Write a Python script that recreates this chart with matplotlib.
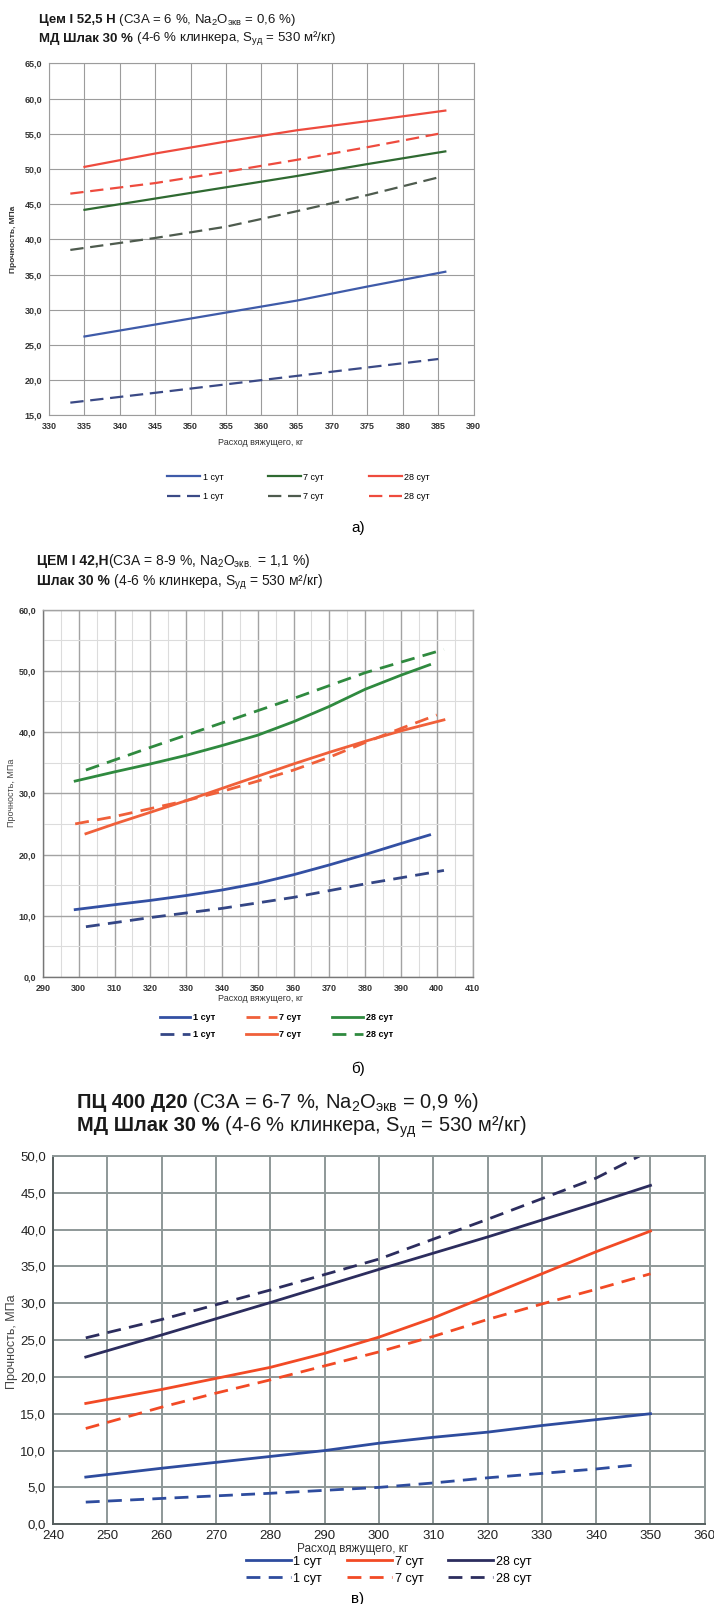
import matplotlib
matplotlib.use("Agg")
import matplotlib.pyplot as plt
from matplotlib.lines import Line2D
from matplotlib.ticker import MultipleLocator, FuncFormatter

plt.rcParams['mathtext.default'] = 'regular'

NARROW = ['Liberation Sans', 'DejaVu Sans']

# ---------------- data: chart a ----------------
a_x_s = [335, 345, 355, 365, 375, 386]
a_x_d = [333, 345, 355, 365, 375, 385]
a_1_solid = [26.2, 27.9, 29.6, 31.3, 33.3, 35.4]
a_1_dash = [16.8, 18.2, 19.4, 20.6, 21.8, 23.0]
a_7_solid = [44.2, 45.8, 47.4, 49.0, 50.7, 52.5]
a_7_dash = [38.5, 40.2, 41.8, 44.0, 46.3, 48.8]
a_28_solid = [50.3, 52.2, 53.9, 55.5, 56.8, 58.3]
a_28_dash = [46.5, 48.0, 49.6, 51.3, 53.1, 55.0]

# ---------------- data: chart b ----------------
b_x_s1 = [299, 310, 320, 330, 340, 350, 360, 370, 380, 390, 398]
b_1_solid = [11.0, 11.8, 12.5, 13.3, 14.2, 15.3, 16.7, 18.3, 20.0, 21.8, 23.2]
b_x_d1 = [302, 320, 340, 360, 380, 402]
b_1_dash = [8.2, 9.7, 11.2, 13.0, 15.2, 17.4]
b_x_d7 = [299, 310, 320, 330, 340, 350, 360, 370, 380, 390, 400]
b_7_dash = [25.0, 26.2, 27.5, 28.8, 30.3, 32.0, 33.8, 35.9, 38.3, 40.6, 42.8]
b_x_s7 = [302, 310, 320, 330, 340, 350, 360, 370, 380, 390, 402]
b_7_solid = [23.4, 25.0, 26.9, 28.8, 30.8, 32.8, 34.8, 36.7, 38.5, 40.2, 42.0]
b_x_s28 = [299, 310, 320, 330, 340, 350, 360, 370, 380, 390, 398]
b_28_solid = [32.0, 33.5, 34.8, 36.2, 37.8, 39.5, 41.7, 44.2, 47.0, 49.3, 51.0]
b_x_d28 = [302, 320, 340, 360, 380, 402]
b_28_dash = [33.8, 37.5, 41.5, 45.5, 49.7, 53.5]

# ---------------- data: chart c ----------------
c_x_full = [246, 260, 270, 280, 290, 300, 310, 320, 330, 340, 350]
c_1_solid = [6.4, 7.6, 8.4, 9.2, 10.0, 11.0, 11.8, 12.5, 13.4, 14.2, 15.0]
c_x_d1 = [246, 260, 280, 300, 310, 320, 330, 340, 348]
c_1_dash = [3.0, 3.5, 4.2, 5.0, 5.6, 6.3, 6.9, 7.5, 8.1]
c_7_solid = [16.4, 18.3, 19.8, 21.3, 23.2, 25.4, 28.0, 31.0, 34.0, 37.0, 39.8]
c_7_dash = [13.0, 15.9, 17.8, 19.6, 21.5, 23.4, 25.5, 27.8, 29.9, 31.9, 34.0]
c_x_s28 = [246, 260, 280, 300, 320, 340, 350]
c_28_solid = [22.7, 25.7, 30.1, 34.6, 39.0, 43.6, 46.0]
c_x_d28 = [246, 260, 280, 300, 320, 340, 348]
c_28_dash = [25.3, 27.8, 31.8, 36.0, 41.4, 47.0, 50.0]

labels_days = ['1 сут', '7 сут', '28 сут']
xlabel_text = 'Расход вяжущего, кг'
ylabel_text = 'Прочность, МПа'

W, H = 714, 1604
fig = plt.figure(figsize=(W / 100, H / 100), dpi=100)
fig.patch.set_facecolor('white')
renderer = fig.canvas.get_renderer()

SX = 714 / 698
SY = 1604 / 1568


def fx(x):
    return x * SX / W


def fy(y):
    return 1 - y * SY / H


def axes_rect(l, t, r, b):
    return [fx(l), fy(b), fx(r) - fx(l), fy(t) - fy(b)]


def rich(x, y, parts, size, family):
    """parts: list of (text, weight); x,y in reference (698-scale) px, y is baseline"""
    cx = x * SX
    for s, w in parts:
        t = fig.text(cx / W, fy(y), s, fontsize=size, fontweight=w,
                     family=family, ha='left', va='baseline', color='#1a1a1a')
        bb = t.get_window_extent(renderer)
        cx += bb.width


comma = FuncFormatter(lambda v, p: f"{v:.1f}".replace('.', ','))
intfmt = FuncFormatter(lambda v, p: f"{v:.0f}")

# =============== chart a ===============
rich(38, 22, [('Цем I 52,5 Н', 'bold'), (' (С3А = 6 %, Na$_2$O$_{экв}$ = 0,6 %)', 'normal')], 9.5, NARROW)
rich(38, 41, [('МД Шлак 30 %', 'bold'), (' (4-6 % клинкера, S$_{уд}$ = 530 м²/кг)', 'normal')], 9.5, NARROW)

axa = fig.add_axes(axes_rect(48, 62, 463, 406))
blue_a, blue_ad = '#3F5BA9', '#3B4A86'
green_a, green_ad = '#2F6A31', '#4E5B4E'
red_a = '#EE4B3E'
lw = 1.6
axa.plot(a_x_s, a_1_solid, color=blue_a, lw=lw)
axa.plot(a_x_d, a_1_dash, color=blue_ad, lw=lw, dashes=(6, 3))
axa.plot(a_x_s, a_7_solid, color=green_a, lw=lw)
axa.plot(a_x_d, a_7_dash, color=green_ad, lw=lw, dashes=(6, 3))
axa.plot(a_x_s, a_28_solid, color=red_a, lw=lw)
axa.plot(a_x_d, a_28_dash, color=red_a, lw=lw, dashes=(6, 3))
axa.set_xlim(330, 390)
axa.set_ylim(15, 65)
axa.xaxis.set_major_locator(MultipleLocator(5))
axa.yaxis.set_major_locator(MultipleLocator(5))
axa.yaxis.set_major_formatter(comma)
axa.xaxis.set_major_formatter(intfmt)
axa.grid(True, color='#9c9c9c', lw=0.8)
axa.set_axisbelow(True)
for s in axa.spines.values():
    s.set_color('#9c9c9c')
    s.set_linewidth(0.8)
axa.tick_params(length=0, labelsize=6.5, pad=5, colors='#333333')
for t in axa.get_xticklabels() + axa.get_yticklabels():
    t.set_family(NARROW)
    t.set_fontweight('bold')
fig.text(fx(13), fy(234), ylabel_text, rotation=90, ha='center', va='center',
         fontsize=6, family=NARROW, fontweight='bold', color='#333333')
fig.text(fx(255), fy(433), xlabel_text, ha='center', va='center',
         fontsize=6.5, family=NARROW, color='#333333')
ha_ = [Line2D([], [], color=blue_a, lw=lw), Line2D([], [], color=blue_ad, lw=lw, dashes=(6, 3)),
       Line2D([], [], color=green_a, lw=lw), Line2D([], [], color=green_ad, lw=lw, dashes=(6, 3)),
       Line2D([], [], color=red_a, lw=lw), Line2D([], [], color=red_a, lw=lw, dashes=(6, 3))]
la_ = [labels_days[0], labels_days[0], labels_days[1], labels_days[1], labels_days[2], labels_days[2]]
fig.legend(ha_, la_, ncol=3, loc='center', bbox_to_anchor=(fx(292), fy(476)),
           frameon=False, prop={'family': NARROW, 'size': 6.5}, handlelength=3.6,
           columnspacing=5.0, handletextpad=0.3, labelspacing=1.2)
fig.text(fx(350), fy(516), 'а)', ha='center', va='center', fontsize=11, family=NARROW)

# =============== chart b ===============
rich(36, 552, [('ЦЕМ I 42,Н', 'bold'), ('(С3А = 8-9 %, Na$_2$O$_{экв.}$ = 1,1 %)', 'normal')], 10, NARROW)
rich(36, 572, [('Шлак 30 %', 'bold'), (' (4-6 % клинкера, S$_{уд}$ = 530 м²/кг)', 'normal')], 10, NARROW)

axb = fig.add_axes(axes_rect(42, 596, 462, 955))
blue_b, blue_bd = '#3350A3', '#344685'
orange_b = '#F0603A'
green_b = '#2F8A3F'
lwb = 2.0
axb.plot(b_x_s1, b_1_solid, color=blue_b, lw=lwb)
axb.plot(b_x_d1, b_1_dash, color=blue_bd, lw=lwb, dashes=(5, 3))
axb.plot(b_x_d7, b_7_dash, color=orange_b, lw=lwb, dashes=(5, 3))
axb.plot(b_x_s7, b_7_solid, color=orange_b, lw=lwb)
axb.plot(b_x_s28, b_28_solid, color=green_b, lw=lwb)
axb.plot(b_x_d28, b_28_dash, color=green_b, lw=lwb, dashes=(5, 3))
axb.set_xlim(290, 410)
axb.set_ylim(0, 60)
axb.xaxis.set_major_locator(MultipleLocator(10))
axb.yaxis.set_major_locator(MultipleLocator(10))
axb.xaxis.set_minor_locator(MultipleLocator(5))
axb.yaxis.set_minor_locator(MultipleLocator(5))
axb.yaxis.set_major_formatter(comma)
axb.xaxis.set_major_formatter(intfmt)
axb.grid(True, which='major', color='#a3a3a3', lw=1.0)
axb.grid(True, which='minor', color='#dcdcdc', lw=0.8)
axb.set_axisbelow(True)
for k, s in axb.spines.items():
    s.set_color('#a3a3a3')
    s.set_linewidth(1.0)
axb.spines['left'].set_color('#777777')
axb.spines['bottom'].set_color('#777777')
axb.tick_params(which='both', length=0, labelsize=6.5, pad=5, colors='#333333')
for t in axb.get_xticklabels() + axb.get_yticklabels():
    t.set_family(NARROW)
    t.set_fontweight('bold')
fig.text(fx(11), fy(775), ylabel_text, rotation=90, ha='center', va='center',
         fontsize=6.5, family=NARROW, color='#444444')
fig.text(fx(255), fy(976), xlabel_text, ha='center', va='center',
         fontsize=6.5, family=NARROW, color='#333333')
hb_ = [Line2D([], [], color=blue_b, lw=lwb), Line2D([], [], color=blue_bd, lw=lwb, dashes=(5, 3)),
       Line2D([], [], color=orange_b, lw=lwb, dashes=(5, 3)), Line2D([], [], color=orange_b, lw=lwb),
       Line2D([], [], color=green_b, lw=lwb), Line2D([], [], color=green_b, lw=lwb, dashes=(5, 3))]
fig.legend(hb_, la_, ncol=3, loc='center', bbox_to_anchor=(fx(270), fy(1003)),
           frameon=False, prop={'family': NARROW, 'size': 6.5, 'weight': 'bold'}, handlelength=3.4,
           columnspacing=3.4, handletextpad=0.3, labelspacing=0.9)
fig.text(fx(350), fy(1045), 'б)', ha='center', va='center', fontsize=11, family=NARROW)

# =============== chart c ===============
rich(75, 1083, [('ПЦ 400 Д20', 'bold'), (' (С3А = 6-7 %, Na$_2$O$_{экв}$ = 0,9 %)', 'normal')], 14.5, NARROW)
rich(75, 1106, [('МД Шлак 30 %', 'bold'), (' (4-6 % клинкера, S$_{уд}$ = 530 м²/кг)', 'normal')], 14.5, NARROW)

axc = fig.add_axes(axes_rect(52, 1130, 689, 1490))
blue_c = '#2E4C9E'
red_c = '#F24A25'
navy_c = '#2C2D5E'
lwc = 2.0
axc.plot(c_x_full, c_1_solid, color=blue_c, lw=lwc)
axc.plot(c_x_d1, c_1_dash, color=blue_c, lw=lwc, dashes=(5, 3))
axc.plot(c_x_full, c_7_solid, color=red_c, lw=lwc)
axc.plot(c_x_full, c_7_dash, color=red_c, lw=lwc, dashes=(5, 3))
axc.plot(c_x_s28, c_28_solid, color=navy_c, lw=lwc)
axc.plot(c_x_d28, c_28_dash, color=navy_c, lw=lwc, dashes=(5, 3))
axc.set_xlim(240, 360)
axc.set_ylim(0, 50)
axc.xaxis.set_major_locator(MultipleLocator(10))
axc.yaxis.set_major_locator(MultipleLocator(5))
axc.yaxis.set_major_formatter(comma)
axc.xaxis.set_major_formatter(intfmt)
axc.grid(True, color='#8e9898', lw=1.4)
axc.set_axisbelow(True)
for k, s in axc.spines.items():
    s.set_color('#8e9898')
    s.set_linewidth(1.4)
axc.spines['left'].set_color('#555e5e')
axc.spines['bottom'].set_color('#555e5e')
axc.tick_params(axis='x', length=0, labelsize=9.5, pad=4, colors='#222222')
axc.tick_params(axis='y', length=0, labelsize=9.5, pad=5, colors='#222222')
for t in axc.get_xticklabels() + axc.get_yticklabels():
    t.set_family(NARROW)
fig.text(fx(12), fy(1312), ylabel_text, rotation=90, ha='center', va='center',
         fontsize=9, family=NARROW, color='#444444')
fig.text(fx(345), fy(1514), xlabel_text, ha='center', va='center',
         fontsize=8.5, family=NARROW, color='#333333')
hc_ = [Line2D([], [], color=blue_c, lw=lwc), Line2D([], [], color=blue_c, lw=lwc, dashes=(5, 3)),
       Line2D([], [], color=red_c, lw=lwc), Line2D([], [], color=red_c, lw=lwc, dashes=(5, 3)),
       Line2D([], [], color=navy_c, lw=lwc), Line2D([], [], color=navy_c, lw=lwc, dashes=(5, 3))]
fig.legend(hc_, la_, ncol=3, loc='center', bbox_to_anchor=(fx(380), fy(1535)),
           frameon=False, prop={'family': NARROW, 'size': 9}, handlelength=3.6,
           columnspacing=2.0, handletextpad=0.2, labelspacing=0.4)
fig.text(fx(350), fy(1563), 'в)', ha='center', va='center', fontsize=11, family=NARROW)

fig.savefig('out.png', dpi=100, facecolor='white')
